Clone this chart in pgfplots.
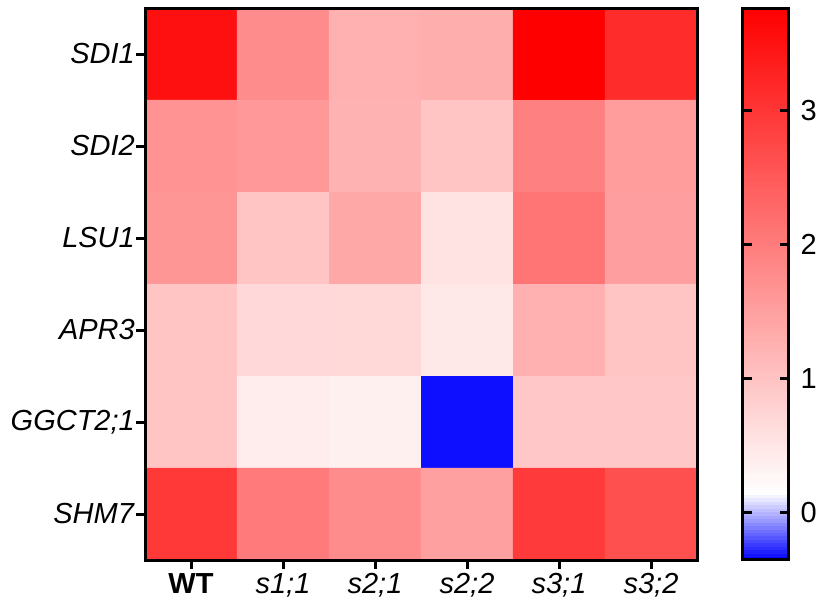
\documentclass[border=0pt]{standalone}
\usepackage{pgfplots}
\usepackage{pgfplotstable}
\pgfplotsset{compat=1.18}
\usepackage{fontspec}
\setmainfont{Liberation Sans}

% expression values: rows SDI1..SHM7 (y = 0..5), columns WT..s3;2 (x = 0..5)
\pgfplotstableread{
x y c
0 0 3.53
1 0 1.78
2 0 1.27
3 0 1.30
4 0 3.76
5 0 3.14
0 1 1.69
1 1 1.59
2 1 1.24
3 1 0.97
4 1 1.95
5 1 1.55
0 2 1.63
1 2 0.97
2 2 1.38
3 2 0.56
4 2 2.12
5 2 1.52
0 3 0.98
1 3 0.69
2 3 0.70
3 3 0.48
4 3 1.27
5 3 0.98
0 4 0.98
1 4 0.42
2 4 0.36
3 4 -0.32
4 4 0.94
5 4 0.94
0 5 2.97
1 5 2.03
2 5 1.78
3 5 1.50
4 5 2.94
5 5 2.63
}\expr

\begin{document}
\begin{tikzpicture}[font=\fontsize{29}{34}\selectfont]
\useasboundingbox (0,0) rectangle (820pt,605pt);
\begin{axis}[
  at={(145pt,45pt)}, anchor=south west,
  scale only axis, width=552pt, height=552pt,
  xmin=-0.5, xmax=5.5, ymin=-0.5, ymax=5.5,
  y dir=reverse,
  axis line style={line width=3pt},
  tick style={line width=3pt, black},
  major tick length=9pt,
  tick align=outside,
  xtick={0,1,2,3,4,5}, ytick={0,1,2,3,4,5},
  xtick pos=bottom, ytick pos=left,
  xticklabels={\textbf{WT},\textit{s1;1},\textit{s2;1},\textit{s2;2},\textit{s3;1},\textit{s3;2}},
  yticklabels={\textit{SDI1},\textit{SDI2},\textit{LSU1},\textit{APR3},\textit{GGCT2;1},\textit{SHM7}},
  yticklabel style={inner sep=1pt},
  xticklabel style={inner sep=2pt, yshift=-2pt},
  colormap={bwr}{rgb255(0pt)=(0,0,255); rgb255(50pt)=(255,255,255); rgb255(411pt)=(255,0,0)},
  point meta min=-0.35, point meta max=3.76,
  colorbar sampled,
  colorbar style={
    at={(parent axis.south east)}, anchor=south west, xshift=37pt,
    scale only axis, width=46pt, height=552pt,
    samples=160,
    axis line style={line width=3pt},
    ytick={0,1,2,3}, yticklabels={0,1,2,3},
    tick align=inside,
    major tick length=9pt,
    tick style={line width=3pt, black},
    yticklabel style={inner sep=2pt, xshift=10pt},
    after end axis/.append code={
      % short inner tick marks on both edges of the bar
      \foreach \v in {0,1,2,3} {
        \draw[line width=3pt, black] (rel axis cs:0,{(\v+0.35)/4.11}) -- ++(9pt,0);
        \draw[line width=3pt, black] (rel axis cs:1,{(\v+0.35)/4.11}) -- ++(-9pt,0);
      }
      \draw[line width=3pt, black] (rel axis cs:0,0) rectangle (rel axis cs:1,1);
    },
  },
  after end axis/.append code={
    \draw[line width=3pt, black] (rel axis cs:0,0) rectangle (rel axis cs:1,1);
  },
]
\addplot[matrix plot*, mesh/cols=6, point meta=explicit] table[x=x, y=y, meta=c]{\expr};
\end{axis}
\end{tikzpicture}
\end{document}
